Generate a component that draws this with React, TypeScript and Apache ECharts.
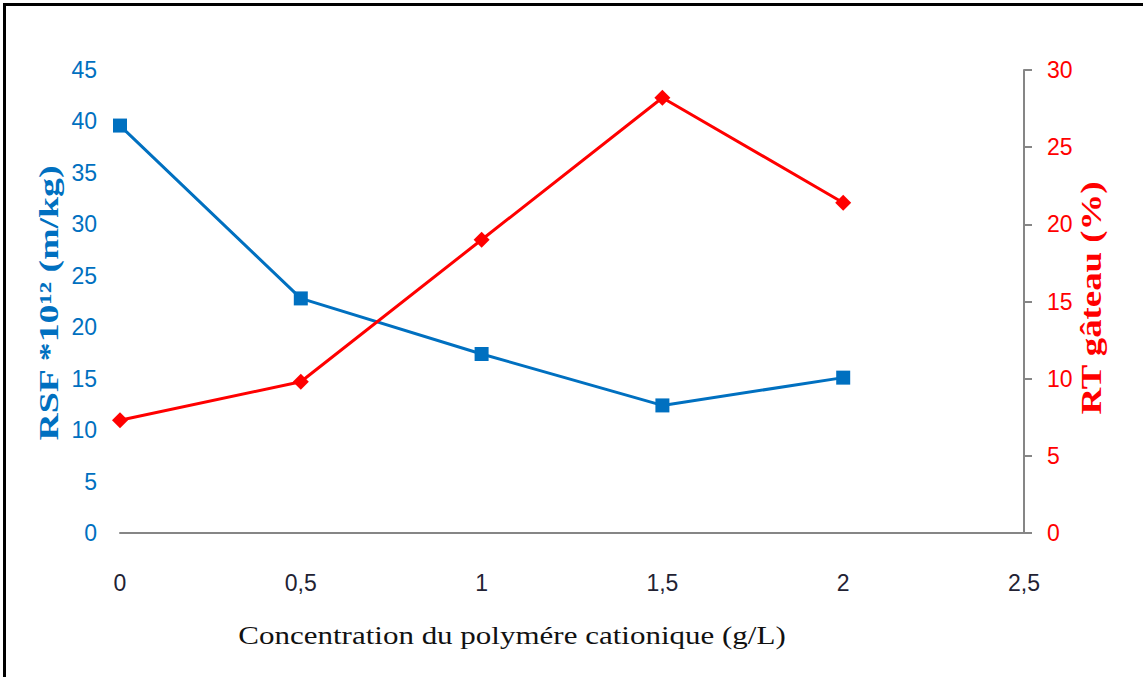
import React, { useEffect, useRef } from "react";
import * as echarts from "echarts";

const xValues = [0, 0.5, 1, 1.5, 2];
const rsfValues = [39.6, 22.8, 17.4, 12.4, 15.1];
const rtValues = [7.3, 9.8, 19.0, 28.2, 21.4];

const xTitle = "Concentration du polymére cationique (g/L)";
const leftTitle = "RSF *10¹² (m/kg)";
const rightTitle = "RT gâteau (%)";

const BLUE = "#0070C0";
const RED = "#FF0000";
const GRAY = "#868686";

export default function App() {
  const ref = useRef<HTMLDivElement>(null);
  useEffect(() => {
    if (!ref.current) return;
    const chart = echarts.init(ref.current, null, { renderer: "svg" });
    chart.setOption({
      animation: false,
      backgroundColor: "#ffffff",
      grid: { left: 120, right: 119, top: 70, bottom: 144, containLabel: false },
      xAxis: {
        type: "value",
        min: 0,
        max: 2.5,
        interval: 0.5,
        axisLine: { show: true, lineStyle: { color: GRAY, width: 2 } },
        axisTick: { show: false },
        splitLine: { show: false },
        axisLabel: {
          margin: 38,
          color: "#222233",
          fontFamily: "Liberation Sans",
          fontSize: 23,
          formatter: (v: number) => String(v).replace(".", ","),
        },
      },
      yAxis: [
        {
          type: "value",
          position: "left",
          min: 0,
          max: 45,
          interval: 5,
          axisLine: { show: false },
          axisTick: { show: false },
          splitLine: { show: false },
          axisLabel: {
            margin: 23,
            color: BLUE,
            fontFamily: "Liberation Sans",
            fontSize: 23,
          },
        },
        {
          type: "value",
          position: "right",
          min: 0,
          max: 30,
          interval: 5,
          axisLine: { show: true, lineStyle: { color: GRAY, width: 2 } },
          axisTick: { show: true, length: 8, lineStyle: { color: GRAY, width: 2 } },
          splitLine: { show: false },
          axisLabel: {
            margin: 23,
            color: RED,
            fontFamily: "Liberation Sans",
            fontSize: 23,
          },
        },
      ],
      series: [
        {
          type: "line",
          yAxisIndex: 0,
          data: xValues.map((x, i) => [x, rsfValues[i]]),
          symbol: "rect",
          symbolSize: 14,
          lineStyle: { color: BLUE, width: 3 },
          itemStyle: { color: BLUE },
          z: 3,
        },
        {
          type: "line",
          yAxisIndex: 1,
          data: xValues.map((x, i) => [x, rtValues[i]]),
          symbol: "diamond",
          symbolSize: 16,
          lineStyle: { color: RED, width: 3 },
          itemStyle: { color: RED },
          z: 4,
        },
      ],
      graphic: [
        {
          type: "polyline",
          shape: { points: [[4.5, 700], [4.5, 4.5], [1160, 4.5]] },
          style: { stroke: "#000", lineWidth: 3, fill: null },
          silent: true,
        },
        {
          type: "text",
          x: 512,
          y: 636,
          scaleX: 1.24,
          style: {
            text: xTitle,
            font: "25px 'Liberation Serif'",
            fill: "#111111",
            textAlign: "center",
            textVerticalAlign: "middle",
          },
        },
        {
          type: "text",
          x: 49,
          y: 303,
          rotation: Math.PI / 2,
          scaleX: 1.4,
          style: {
            text: leftTitle,
            font: "bold 27px 'Liberation Serif'",
            fill: BLUE,
            textAlign: "center",
            textVerticalAlign: "middle",
          },
        },
        {
          type: "text",
          x: 1091,
          y: 298,
          rotation: Math.PI / 2,
          scaleX: 1.27,
          style: {
            text: rightTitle,
            font: "bold 29px 'Liberation Serif'",
            fill: RED,
            textAlign: "center",
            textVerticalAlign: "middle",
          },
        },
      ],
    });
    return () => chart.dispose();
  }, []);
  return (
    <div
      ref={ref}
      style={{ position: "absolute", left: 0, top: 0, width: 1143, height: 677 }}
    />
  );
}
